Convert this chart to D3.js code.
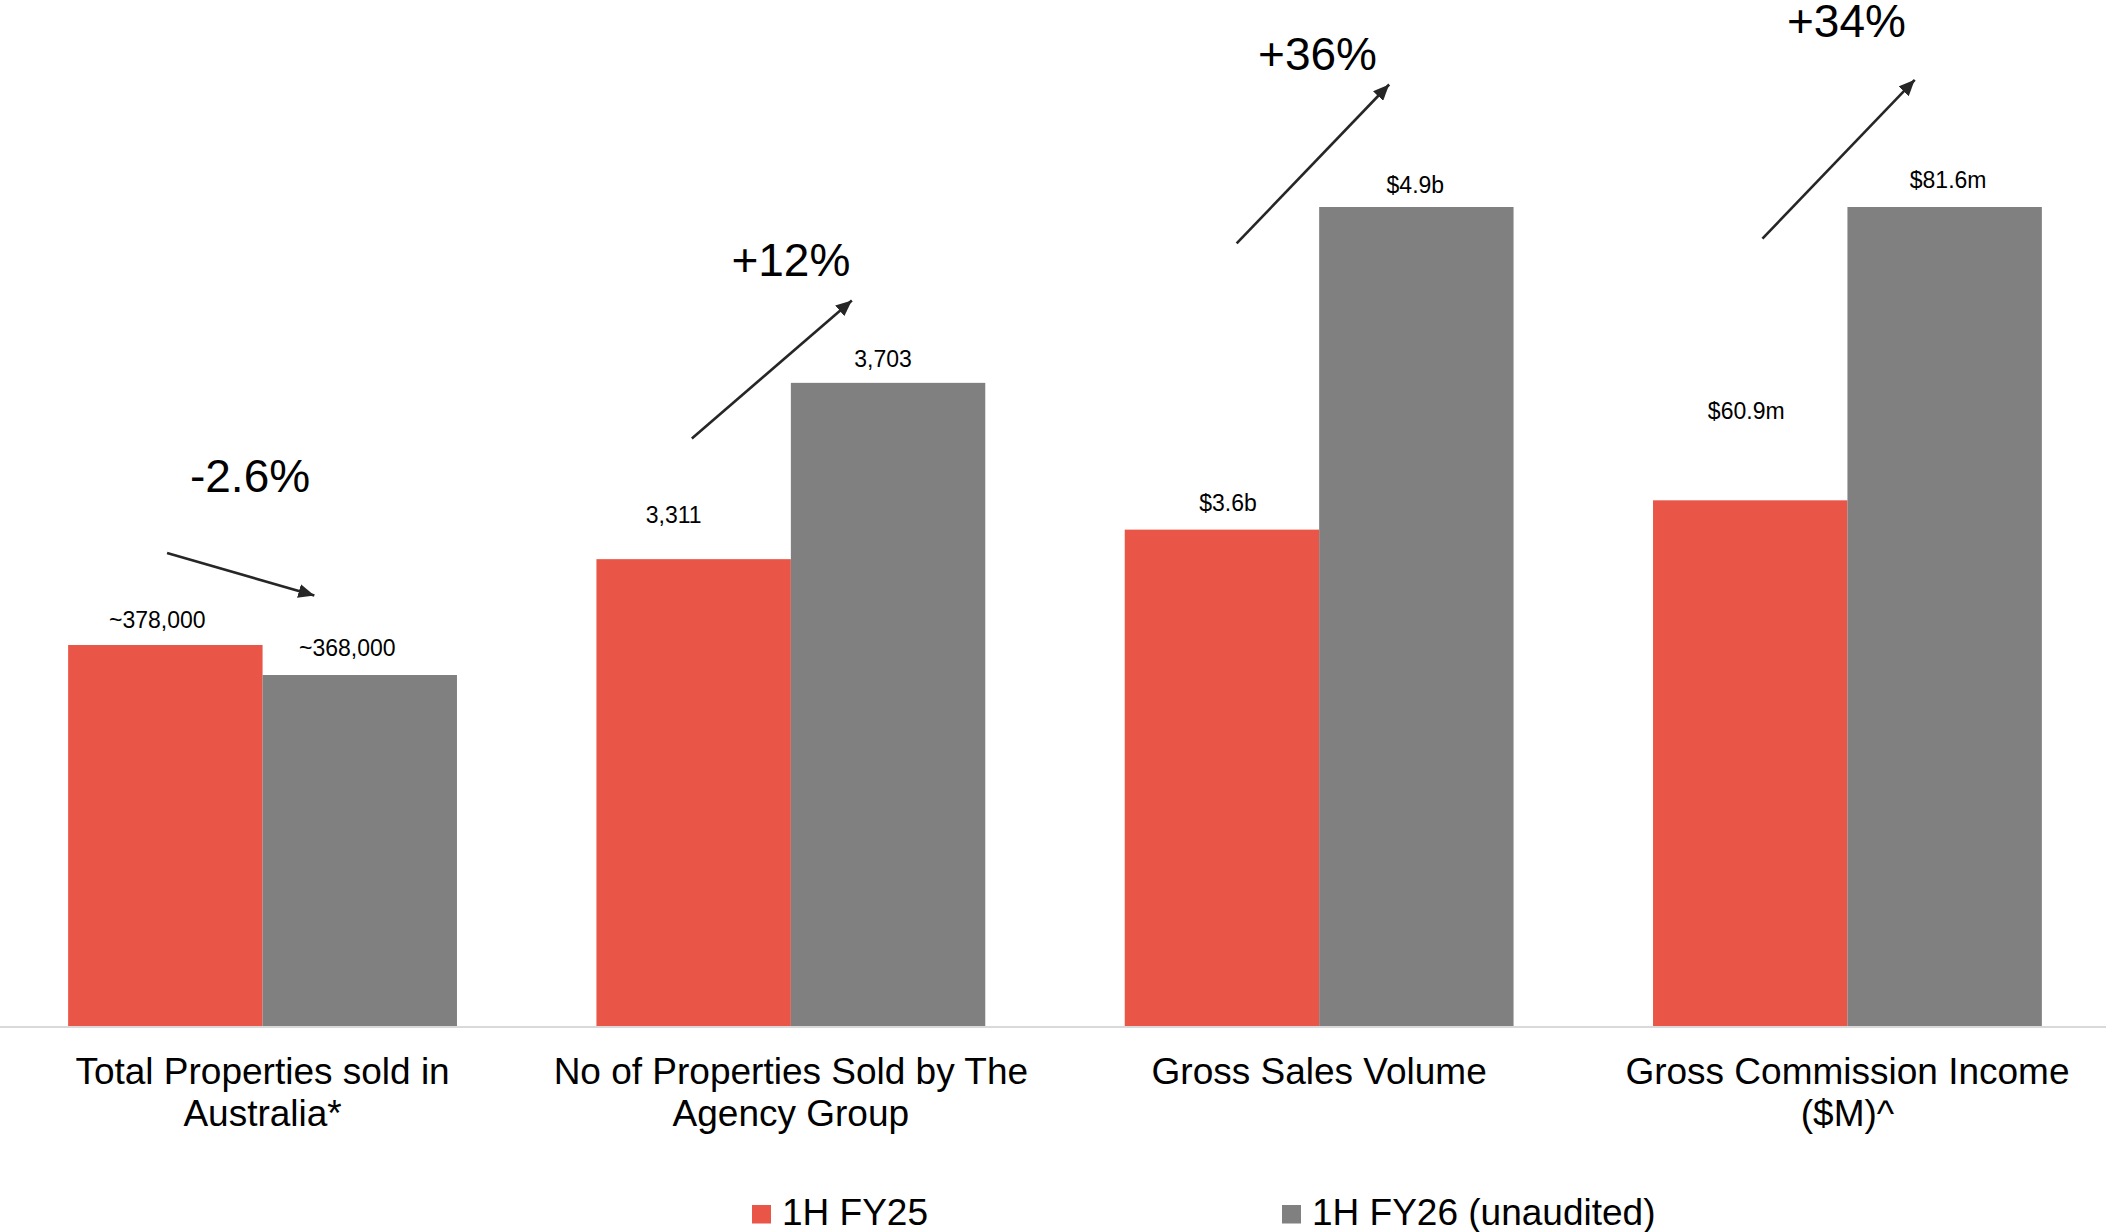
<!DOCTYPE html>
<html>
<head>
<meta charset="utf-8">
<script src="https://cdn.jsdelivr.net/npm/d3@7"></script>
<style>
  html, body { margin: 0; padding: 0; background: #ffffff; }
  svg { display: block; font-family: "Liberation Sans", Arial, sans-serif; }
</style>
</head>
<body>
<script>
// ---- data -------------------------------------------------------------
const metrics = ["total", "agency", "gsv", "gci"];
const categoryLines = [
  ["Total Properties sold in", "Australia*"],
  ["No of Properties Sold by The", "Agency Group"],
  ["Gross Sales Volume"],
  ["Gross Commission Income", "($M)^"]
];
const seriesNames = ["1H FY25", "1H FY26 (unaudited)"];
const valuesFY25 = [378000, 3311, 3.6, 60.9];
const valuesFY26 = [368000, 3703, 4.9, 81.6];
const changeLabels = ["-2.6%", "+12%", "+36%", "+34%"];
// each metric is drawn on its own value axis (floor / ceiling of the axis)
const axisFloor = [251000, 2273, 1.6, 23.8];
const axisCeil  = [524000, 4094, 4.9, 81.6];

// ---- formatting ------------------------------------------------------
const formatters = [
  v => "~" + d3.format(",")(v),
  v => d3.format(",")(v),
  v => "$" + d3.format(".1f")(v) + "b",
  v => "$" + d3.format(".1f")(v) + "m"
];

// ---- layout ----------------------------------------------------------
const W = 2106, H = 1232;
const baseY = 1026, topY = 207;
const colors = ["#E95546", "#808080"];
const ink = "#000000";
const arrowInk = "#262626";

// label nudges (dx from bar centre, gap above bar top)
const labelNudge = [
  [[-8, 17], [-12.5, 19]],
  [[-20, 36.5], [-5, 15.7]],
  [[6, 19], [-1, 14]],
  [[-4, 81], [3.5, 19]]
];
// change annotation placement relative to the group centre
const arrowLayout = [
  { x1: -95.5, y1: 553,   x2: 51.8, y2: 595.5, tx: -12.5, ty: 492 },
  { x1: -99,   y1: 438.6, x2: 61,   y2: 300.4, tx: 0,     ty: 275.7 },
  { x1: -82.5, y1: 243.4, x2: 70,   y2: 84.5,  tx: -1.6,  ty: 69.6 },
  { x1: -85,   y1: 238.7, x2: 67.3, y2: 79.8,  tx: -1,    ty: 37.2 }
];

const svg = d3.select("body").append("svg")
  .attr("width", W).attr("height", H);

svg.append("defs").append("marker")
  .attr("id", "arrowhead")
  .attr("markerUnits", "userSpaceOnUse")
  .attr("viewBox", "0 0 16 14")
  .attr("refX", 16).attr("refY", 7)
  .attr("markerWidth", 16).attr("markerHeight", 14)
  .attr("orient", "auto")
  .append("path")
  .attr("d", "M0,0 L16,7 L0,14 Z")
  .attr("fill", arrowInk);

// ---- scales ----------------------------------------------------------
const x0 = d3.scaleBand()
  .domain(metrics)
  .range([0, 2110])
  .paddingInner(0.264)
  .paddingOuter(0.129);

const x1 = d3.scaleBand()
  .domain([0, 1])
  .range([0, x0.bandwidth()])
  .padding(0);

const yScales = metrics.map((m, i) =>
  d3.scaleLinear().domain([axisFloor[i], axisCeil[i]]).range([baseY, topY]));

const rows = metrics.map((m, i) => ({
  key: m, i,
  vals: [valuesFY25[i], valuesFY26[i]]
}));

// ---- bars ------------------------------------------------------------
const groups = svg.append("g").selectAll("g.group")
  .data(rows).join("g")
  .attr("class", "group")
  .attr("transform", d => `translate(${x0(d.key)},0)`);

groups.selectAll("rect")
  .data(d => d.vals.map((v, s) => ({ v, s, i: d.i })))
  .join("rect")
  .attr("x", d => x1(d.s))
  .attr("width", x1.bandwidth())
  .attr("y", d => yScales[d.i](d.v))
  .attr("height", d => baseY - yScales[d.i](d.v))
  .attr("fill", d => colors[d.s]);

// value labels
groups.selectAll("text.value")
  .data(d => d.vals.map((v, s) => ({ v, s, i: d.i })))
  .join("text")
  .attr("class", "value")
  .attr("x", d => x1(d.s) + x1.bandwidth() / 2 + labelNudge[d.i][d.s][0])
  .attr("y", d => yScales[d.i](d.v) - labelNudge[d.i][d.s][1])
  .attr("text-anchor", "middle")
  .attr("font-size", 23)
  .attr("fill", ink)
  .text(d => formatters[d.i](d.v));

// ---- baseline axis ----------------------------------------------------
svg.append("line")
  .attr("x1", 0).attr("x2", W)
  .attr("y1", baseY + 1).attr("y2", baseY + 1)
  .attr("stroke", "#d9d9d9").attr("stroke-width", 2);

// category labels
const cats = svg.append("g").selectAll("text.cat")
  .data(rows).join("text")
  .attr("class", "cat")
  .attr("text-anchor", "middle")
  .attr("font-size", 37)
  .attr("fill", ink);
cats.selectAll("tspan")
  .data(d => categoryLines[d.i].map(t => ({ t, c: x0(d.key) + x0.bandwidth() / 2 })))
  .join("tspan")
  .attr("x", d => d.c)
  .attr("y", (d, k) => 1084 + k * 41.5)
  .text(d => d.t);

// ---- change annotations ----------------------------------------------
rows.forEach(d => {
  const c = x0(d.key) + x0.bandwidth() / 2;
  const a = arrowLayout[d.i];
  svg.append("line")
    .attr("x1", c + a.x1).attr("y1", a.y1)
    .attr("x2", c + a.x2).attr("y2", a.y2)
    .attr("stroke", arrowInk).attr("stroke-width", 2.6)
    .attr("marker-end", "url(#arrowhead)");
  svg.append("text")
    .attr("x", c + a.tx).attr("y", a.ty)
    .attr("text-anchor", "middle")
    .attr("font-size", 46)
    .attr("fill", ink)
    .text(changeLabels[d.i]);
});

// ---- legend ------------------------------------------------------------
const legend = svg.append("g").selectAll("g.legend")
  .data(seriesNames).join("g")
  .attr("class", "legend")
  .attr("transform", (d, k) => `translate(${752 + k * 530},0)`);
legend.append("rect")
  .attr("x", 0).attr("y", 1205)
  .attr("width", 19).attr("height", 18.5)
  .attr("fill", (d, k) => colors[k]);
legend.append("text")
  .attr("x", 30).attr("y", 1225)
  .attr("font-size", 37)
  .attr("fill", ink)
  .text(d => d);
</script>
</body>
</html>
